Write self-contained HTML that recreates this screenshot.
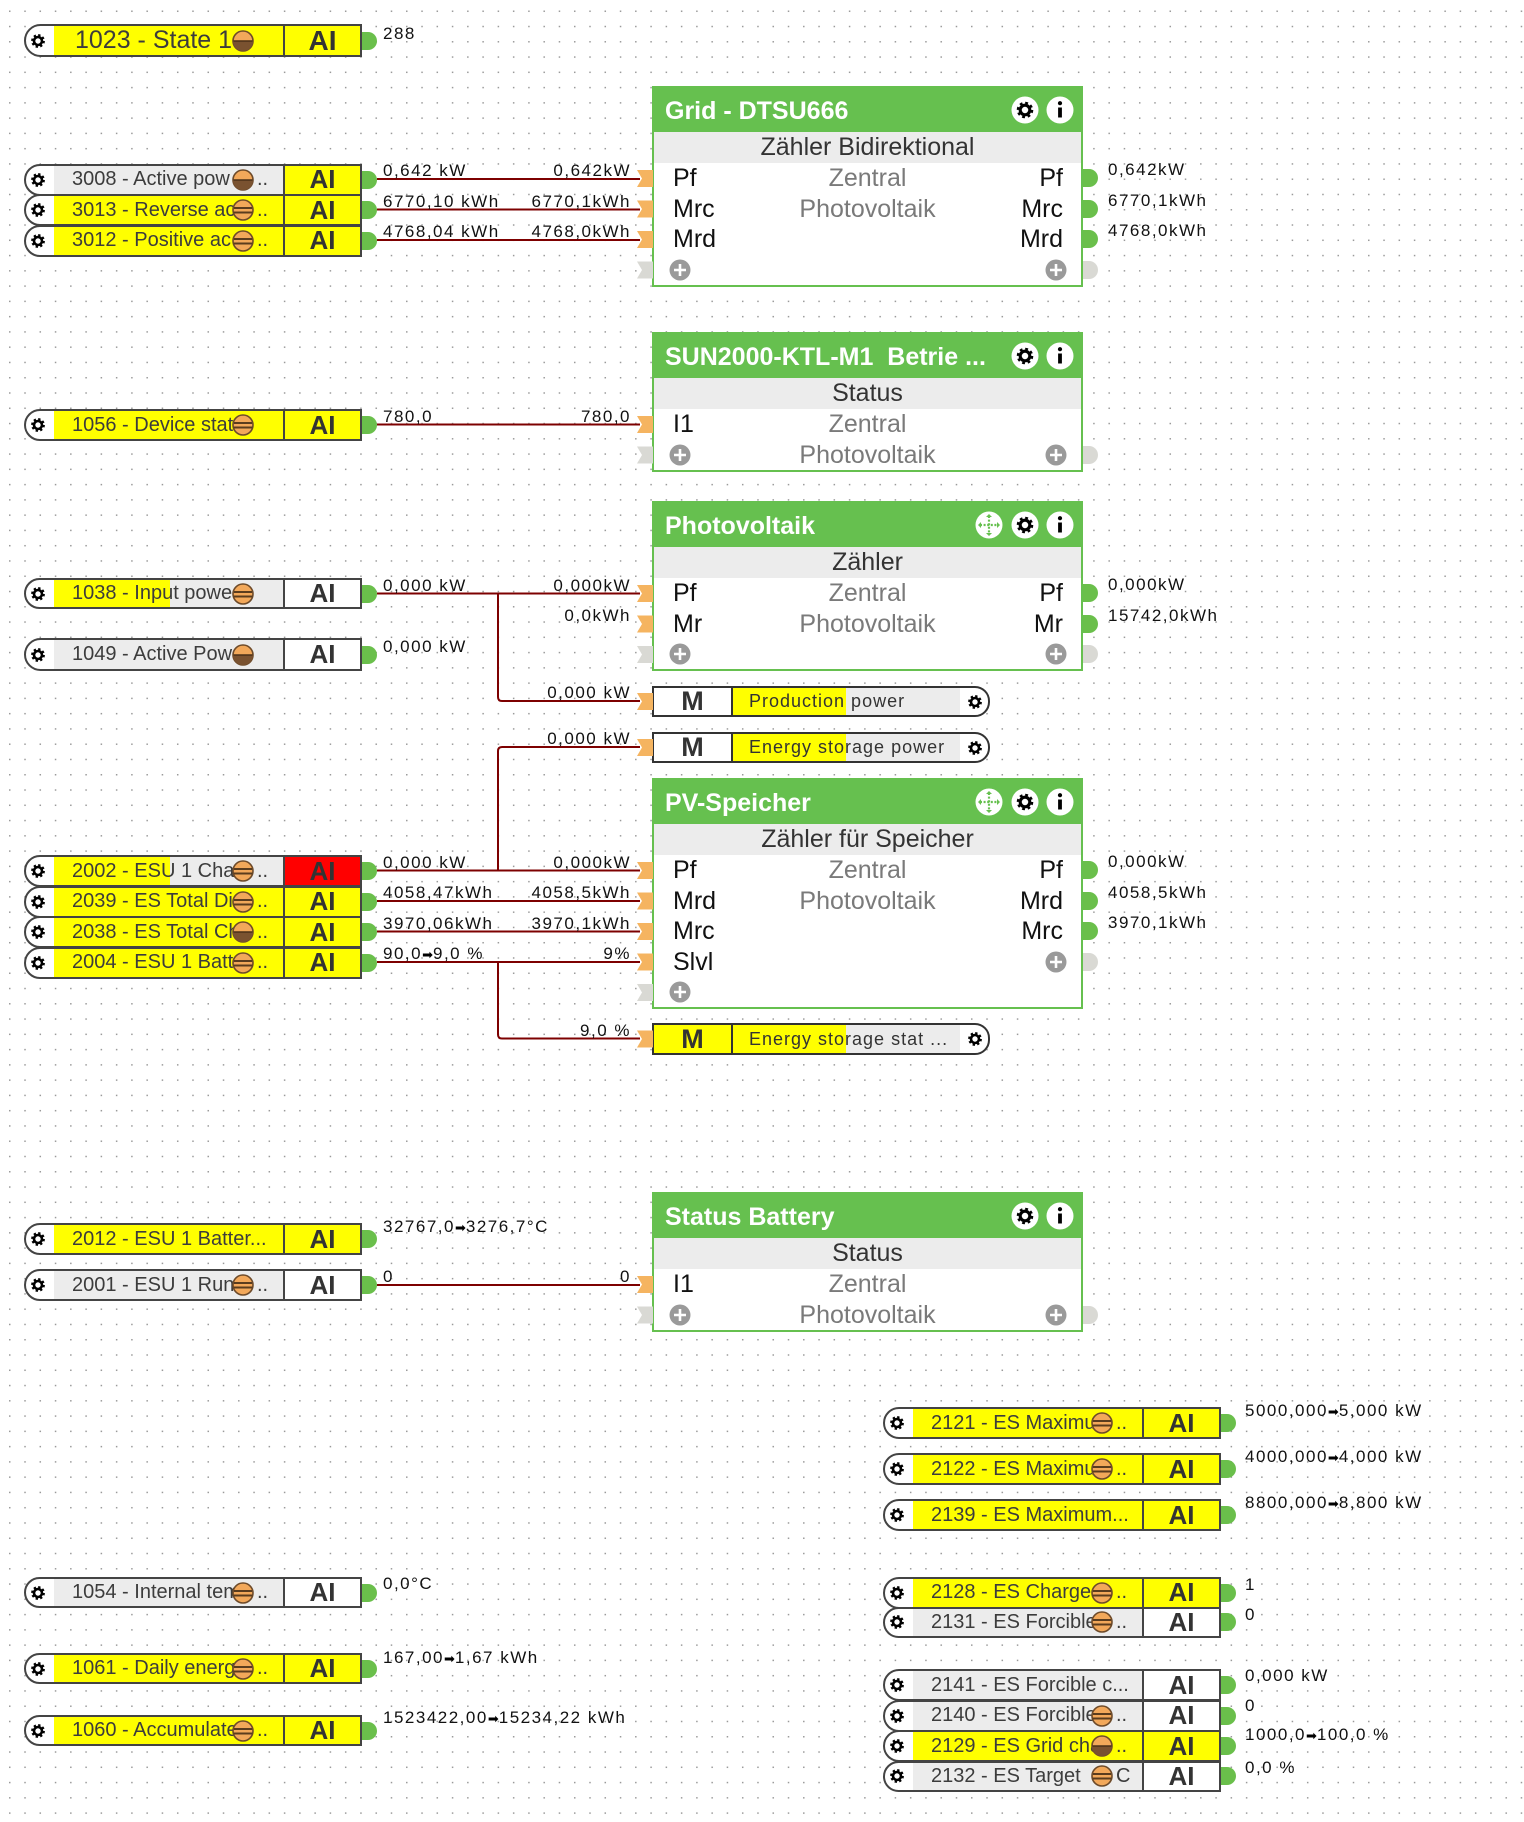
<!DOCTYPE html>
<html><head><meta charset="utf-8">
<style>
body{margin:0;background:#fff}
#c{position:relative;width:1524px;height:1822px;overflow:hidden;background:#fff;font-family:"Liberation Sans",Arial,sans-serif}
.a{position:absolute}
.n{position:absolute;width:338px;box-sizing:border-box;border:2px solid #444;border-radius:17px 0 0 17px;background:#fff}
.n>.gi{position:absolute;left:4px;top:50%;margin-top:-8px}
.l{position:absolute;left:28px;top:0;bottom:0;width:231px;box-sizing:border-box;border-right:2px solid #444;overflow:hidden;white-space:nowrap;font-size:20px;color:#3c3c3c}
.t{position:absolute;left:18px;top:0;bottom:0;width:182px;overflow:hidden;display:flex;align-items:center;white-space:nowrap}
.t.w{width:215px}
.dd{position:absolute;left:203px;top:0;bottom:0;display:flex;align-items:center}
.bl{position:absolute;left:206px;top:50%;margin-top:-11px}
.ai{position:absolute;left:259px;right:0;top:0;bottom:0;display:flex;align-items:center;justify-content:center;font-size:26px;font-weight:bold;color:#333}
.Y{background:#ffff00}.G{background:#ececec}.W{background:#fff}.R{background:#ff0000}
.P{background:linear-gradient(90deg,#ffff00 0,#ffff00 116px,#ececec 116px)}
.cg{position:absolute;width:15px;height:18px;background:#6abf4b;border-radius:0 9px 9px 0}
.cx{position:absolute;width:15px;height:18px;background:#d9d9d4;border-radius:0 9px 9px 0}
.v{position:absolute;font-size:17px;letter-spacing:1.5px;color:#111;white-space:nowrap;line-height:17px}
.vr{position:absolute;font-size:17px;letter-spacing:1.5px;color:#111;white-space:nowrap;line-height:17px;right:893px;text-align:right}
.ar{font-family:"DejaVu Sans",sans-serif;font-size:13px;letter-spacing:0;color:#000}
.b{position:absolute;left:652px;width:431px;box-sizing:border-box;border:2px solid #66c04f;background:#fff}
.h{position:absolute;left:0;right:0;top:0;height:44px;background:#66c04f;color:#fff;font-weight:bold;font-size:25px;line-height:46px;padding-left:11px;white-space:nowrap}
.s{position:absolute;left:0;right:0;top:44px;height:31px;background:#ececec;text-align:center;font-size:25px;line-height:31px;color:#333;white-space:nowrap}
.pl{position:absolute;left:19px;font-size:25px;color:#111;line-height:30.5px;height:30.5px}
.pr{position:absolute;right:18px;font-size:25px;color:#111;line-height:30.5px;height:30.5px}
.pc{position:absolute;left:0;right:0;text-align:center;font-size:25px;color:#7a7a7a;line-height:30.5px;height:30.5px}
.ic{position:absolute;top:8px}
.m{position:absolute;left:652px;width:338px;box-sizing:border-box;border:2px solid #333;border-radius:0 15px 15px 0;background:#fff}
.mm{position:absolute;left:0;top:0;bottom:0;width:79px;box-sizing:border-box;border-right:2px solid #333;display:flex;align-items:center;justify-content:center;font-weight:bold;font-size:27px;color:#333}
.ml{position:absolute;left:79px;top:0;bottom:0;width:227px;display:flex;align-items:center;padding-left:16px;box-sizing:border-box;font-size:18px;letter-spacing:1px;color:#333;white-space:nowrap;overflow:hidden;background:linear-gradient(90deg,#ffff00 0,#ffff00 113px,#ececec 113px)}
.mg{position:absolute;left:313px;top:50%;margin-top:-8px}
</style></head><body>
<div id="c">
<svg width="0" height="0" style="position:absolute">
<defs>
<g id="gg"><circle r="5.3" fill="none" stroke="#000" stroke-width="3.2" stroke-dasharray="2.1 2.06"/><circle r="4" fill="none" stroke="#000" stroke-width="2.6"/></g>
<symbol id="gr" viewBox="-8 -8 16 16"><use href="#gg"/></symbol>
<symbol id="gc" viewBox="-14 -14 28 28"><circle r="13.5" fill="#fff"/><use href="#gg" transform="scale(1.2)"/></symbol>
<symbol id="inf" viewBox="-14 -14 28 28"><circle r="13.5" fill="#fff"/><rect x="-1.9" y="-2.5" width="3.8" height="10" fill="#000"/><circle cy="-6.8" r="2.1" fill="#000"/></symbol>
<symbol id="mv" viewBox="-14 -14 28 28"><circle r="13.5" fill="#fff"/><path d="M0 -9V9M-9 0H9" stroke="#66c04f" stroke-width="2.2" stroke-dasharray="2 1.6"/><path d="M0 -11l-3 3h6zM0 11l-3 -3h6zM-11 0l3 -3v6zM11 0l-3 -3v6z" fill="#66c04f"/></symbol>
<symbol id="pls" viewBox="0 0 22 22"><circle cx="11" cy="11" r="10.5" fill="#9a9a9a"/><path d="M11 5v12M5 11h12" stroke="#fff" stroke-width="2.6"/></symbol>
<symbol id="bs" viewBox="0 0 22 22"><circle cx="11" cy="11" r="10" fill="#f2a85a" stroke="#6e4b2a" stroke-width="1.6"/><path d="M2 9h18M1.5 13.5h19" stroke="#5a3c1e" stroke-width="2"/></symbol>
<symbol id="bh" viewBox="0 0 22 22"><circle cx="11" cy="11" r="10" fill="#f2a85a" stroke="#6e4b2a" stroke-width="1.6"/><path d="M1 11a10 10 0 0 0 20 0z" fill="#7a5230"/><path d="M1.5 11h19" stroke="#4a3018" stroke-width="1.6"/></symbol>
<pattern id="dp" x="9" y="10.5" width="15.27" height="15.27" patternUnits="userSpaceOnUse"><rect width="1.5" height="1.5" fill="#9a9a9a"/></pattern>
</defs>
</svg>

<svg class="a" style="left:0;top:0" width="1524" height="1822">
<rect width="1524" height="1822" fill="url(#dp)"/>
<g stroke="#7d0000" stroke-width="2" fill="none">
<path d="M377 179H640"/>
<path d="M377 209.5H640"/>
<path d="M377 240H640"/>
<path d="M377 424.5H640"/>
<path d="M377 593.5H640"/>
<path d="M498 593.5V697q0 4 4 4H640"/>
<path d="M640 747H502q-4 0-4 4V870.5"/>
<path d="M377 870.5H640"/>
<path d="M377 901H640"/>
<path d="M377 931.5H640"/>
<path d="M377 962H640"/>
<path d="M498 962V1034.5q0 4 4 4H640"/>
<path d="M377 1285H640"/>
</g>
</svg>

<!-- LEFT NODES -->
<div class="n" style="left:24px;top:24px;height:33px"><svg class="gi" width="16" height="16"><use href="#gr"/></svg><div class="l Y"><div class="t" style="left:21px;font-size:25px;width:200px">1023 - State 1</div></div><svg class="bl" width="22" height="22"><use href="#bh"/></svg><div class="ai Y" style="font-size:28px">AI</div></div>
<div class="cg" style="left:362px;top:31.5px"></div>

<div class="n" style="left:24px;top:163.5px;height:32px"><svg class="gi" width="16" height="16"><use href="#gr"/></svg><div class="l G"><div class="t">3008 - Active pow</div><div class="dd">..</div></div><svg class="bl" width="22" height="22"><use href="#bh"/></svg><div class="ai Y">AI</div></div>
<div class="n" style="left:24px;top:194px;height:32px"><svg class="gi" width="16" height="16"><use href="#gr"/></svg><div class="l Y"><div class="t">3013 - Reverse ac</div><div class="dd">..</div></div><svg class="bl" width="22" height="22"><use href="#bs"/></svg><div class="ai Y">AI</div></div>
<div class="n" style="left:24px;top:224.5px;height:32px"><svg class="gi" width="16" height="16"><use href="#gr"/></svg><div class="l Y"><div class="t">3012 - Positive ac</div><div class="dd">..</div></div><svg class="bl" width="22" height="22"><use href="#bs"/></svg><div class="ai Y">AI</div></div>
<div class="cg" style="left:362px;top:170.5px"></div>
<div class="cg" style="left:362px;top:201px"></div>
<div class="cg" style="left:362px;top:231.5px"></div>

<div class="n" style="left:24px;top:409px;height:32px"><svg class="gi" width="16" height="16"><use href="#gr"/></svg><div class="l Y"><div class="t">1056 - Device stat</div></div><svg class="bl" width="22" height="22"><use href="#bs"/></svg><div class="ai Y">AI</div></div>
<div class="cg" style="left:362px;top:416px"></div>

<div class="n" style="left:24px;top:578px;height:31px"><svg class="gi" width="16" height="16"><use href="#gr"/></svg><div class="l P"><div class="t">1038 - Input powe</div></div><svg class="bl" width="22" height="22"><use href="#bs"/></svg><div class="ai W">AI</div></div>
<div class="cg" style="left:362px;top:584.5px"></div>

<div class="n" style="left:24px;top:638px;height:33px"><svg class="gi" width="16" height="16"><use href="#gr"/></svg><div class="l G"><div class="t">1049 - Active Pow</div></div><svg class="bl" width="22" height="22"><use href="#bh"/></svg><div class="ai W">AI</div></div>
<div class="cg" style="left:362px;top:645.5px"></div>

<div class="n" style="left:24px;top:855px;height:32px"><svg class="gi" width="16" height="16"><use href="#gr"/></svg><div class="l P"><div class="t">2002 - ESU 1 Cha</div><div class="dd">..</div></div><svg class="bl" width="22" height="22"><use href="#bs"/></svg><div class="ai R">AI</div></div>
<div class="n" style="left:24px;top:885.5px;height:32px"><svg class="gi" width="16" height="16"><use href="#gr"/></svg><div class="l Y"><div class="t">2039 - ES Total Dis</div><div class="dd">..</div></div><svg class="bl" width="22" height="22"><use href="#bs"/></svg><div class="ai Y">AI</div></div>
<div class="n" style="left:24px;top:916px;height:32px"><svg class="gi" width="16" height="16"><use href="#gr"/></svg><div class="l Y"><div class="t">2038 - ES Total Ch</div><div class="dd">..</div></div><svg class="bl" width="22" height="22"><use href="#bh"/></svg><div class="ai Y">AI</div></div>
<div class="n" style="left:24px;top:946.5px;height:32px"><svg class="gi" width="16" height="16"><use href="#gr"/></svg><div class="l Y"><div class="t">2004 - ESU 1 Batt</div><div class="dd">..</div></div><svg class="bl" width="22" height="22"><use href="#bs"/></svg><div class="ai Y">AI</div></div>
<div class="cg" style="left:362px;top:862px"></div>
<div class="cg" style="left:362px;top:892.5px"></div>
<div class="cg" style="left:362px;top:923px"></div>
<div class="cg" style="left:362px;top:953.5px"></div>

<div class="n" style="left:24px;top:1223px;height:32px"><svg class="gi" width="16" height="16"><use href="#gr"/></svg><div class="l Y"><div class="t w">2012 - ESU 1 Batter...</div></div><div class="ai Y">AI</div></div>
<div class="cg" style="left:362px;top:1230px"></div>
<div class="n" style="left:24px;top:1269px;height:32px"><svg class="gi" width="16" height="16"><use href="#gr"/></svg><div class="l G"><div class="t">2001 - ESU 1 Run</div><div class="dd">..</div></div><svg class="bl" width="22" height="22"><use href="#bs"/></svg><div class="ai W">AI</div></div>
<div class="cg" style="left:362px;top:1276px"></div>

<div class="n" style="left:24px;top:1577px;height:31px"><svg class="gi" width="16" height="16"><use href="#gr"/></svg><div class="l G"><div class="t">1054 - Internal tem</div><div class="dd">..</div></div><svg class="bl" width="22" height="22"><use href="#bs"/></svg><div class="ai W">AI</div></div>
<div class="cg" style="left:362px;top:1583.5px"></div>
<div class="n" style="left:24px;top:1653px;height:31px"><svg class="gi" width="16" height="16"><use href="#gr"/></svg><div class="l Y"><div class="t">1061 - Daily energ</div><div class="dd">..</div></div><svg class="bl" width="22" height="22"><use href="#bs"/></svg><div class="ai Y">AI</div></div>
<div class="cg" style="left:362px;top:1659.5px"></div>
<div class="n" style="left:24px;top:1715px;height:31px"><svg class="gi" width="16" height="16"><use href="#gr"/></svg><div class="l Y"><div class="t">1060 - Accumulate</div><div class="dd">..</div></div><svg class="bl" width="22" height="22"><use href="#bs"/></svg><div class="ai Y">AI</div></div>
<div class="cg" style="left:362px;top:1721.5px"></div>

<!-- RIGHT NODES -->
<div class="n" style="left:883px;top:1407px;height:32px"><svg class="gi" width="16" height="16"><use href="#gr"/></svg><div class="l Y"><div class="t">2121 - ES Maximu</div><div class="dd">..</div></div><svg class="bl" width="22" height="22"><use href="#bs"/></svg><div class="ai Y">AI</div></div>
<div class="cg" style="left:1221px;top:1414px"></div>
<div class="n" style="left:883px;top:1453px;height:32px"><svg class="gi" width="16" height="16"><use href="#gr"/></svg><div class="l Y"><div class="t">2122 - ES Maximu</div><div class="dd">..</div></div><svg class="bl" width="22" height="22"><use href="#bs"/></svg><div class="ai Y">AI</div></div>
<div class="cg" style="left:1221px;top:1460px"></div>
<div class="n" style="left:883px;top:1499px;height:32px"><svg class="gi" width="16" height="16"><use href="#gr"/></svg><div class="l Y"><div class="t w">2139 - ES Maximum...</div></div><div class="ai Y">AI</div></div>
<div class="cg" style="left:1221px;top:1506px"></div>

<div class="n" style="left:883px;top:1577px;height:31.5px"><svg class="gi" width="16" height="16"><use href="#gr"/></svg><div class="l Y"><div class="t">2128 - ES Charge</div><div class="dd">..</div></div><svg class="bl" width="22" height="22"><use href="#bs"/></svg><div class="ai Y">AI</div></div>
<div class="n" style="left:883px;top:1606.5px;height:31.5px"><svg class="gi" width="16" height="16"><use href="#gr"/></svg><div class="l G"><div class="t">2131 - ES Forcible</div><div class="dd">..</div></div><svg class="bl" width="22" height="22"><use href="#bs"/></svg><div class="ai W">AI</div></div>
<div class="cg" style="left:1221px;top:1583.75px"></div>
<div class="cg" style="left:1221px;top:1613.25px"></div>

<div class="n" style="left:883px;top:1669px;height:32px"><svg class="gi" width="16" height="16"><use href="#gr"/></svg><div class="l G"><div class="t w">2141 - ES Forcible c...</div></div><div class="ai W">AI</div></div>
<div class="n" style="left:883px;top:1699.5px;height:32px"><svg class="gi" width="16" height="16"><use href="#gr"/></svg><div class="l G"><div class="t">2140 - ES Forcible</div><div class="dd">..</div></div><svg class="bl" width="22" height="22"><use href="#bs"/></svg><div class="ai W">AI</div></div>
<div class="n" style="left:883px;top:1730px;height:32px"><svg class="gi" width="16" height="16"><use href="#gr"/></svg><div class="l Y"><div class="t">2129 - ES Grid cha</div><div class="dd">..</div></div><svg class="bl" width="22" height="22"><use href="#bh"/></svg><div class="ai Y">AI</div></div>
<div class="n" style="left:883px;top:1760.5px;height:31px"><svg class="gi" width="16" height="16"><use href="#gr"/></svg><div class="l G"><div class="t">2132 - ES Target</div><div class="dd">C</div></div><svg class="bl" width="22" height="22"><use href="#bs"/></svg><div class="ai W">AI</div></div>
<div class="cg" style="left:1221px;top:1676px"></div>
<div class="cg" style="left:1221px;top:1706.5px"></div>
<div class="cg" style="left:1221px;top:1737px"></div>
<div class="cg" style="left:1221px;top:1767px"></div>

<!-- BLOCKS -->
<div class="b" style="top:86px;height:201px">
<div class="h">Grid - DTSU666</div>
<svg class="ic" style="left:357px" width="28" height="28"><use href="#gc"/></svg>
<svg class="ic" style="left:392px" width="28" height="28"><use href="#inf"/></svg>
<div class="s">Zähler Bidirektional</div>
<div class="pl" style="top:75px">Pf</div><div class="pr" style="top:75px">Pf</div><div class="pc" style="top:75px">Zentral</div>
<div class="pl" style="top:105.5px">Mrc</div><div class="pr" style="top:105.5px">Mrc</div><div class="pc" style="top:105.5px">Photovoltaik</div>
<div class="pl" style="top:136px">Mrd</div><div class="pr" style="top:136px">Mrd</div>
<svg class="a" style="left:15px;top:170.5px" width="22" height="22"><use href="#pls"/></svg>
<svg class="a" style="left:391px;top:170.5px" width="22" height="22"><use href="#pls"/></svg>
</div>

<div class="b" style="top:332px;height:140px">
<div class="h">SUN2000-KTL-M1&nbsp; Betrie ...</div>
<svg class="ic" style="left:357px" width="28" height="28"><use href="#gc"/></svg>
<svg class="ic" style="left:392px" width="28" height="28"><use href="#inf"/></svg>
<div class="s">Status</div>
<div class="pl" style="top:75px">I1</div><div class="pc" style="top:75px">Zentral</div>
<div class="pc" style="top:105.5px">Photovoltaik</div>
<svg class="a" style="left:15px;top:109.5px" width="22" height="22"><use href="#pls"/></svg>
<svg class="a" style="left:391px;top:109.5px" width="22" height="22"><use href="#pls"/></svg>
</div>

<div class="b" style="top:501px;height:170px">
<div class="h">Photovoltaik</div>
<svg class="ic" style="left:321px" width="28" height="28"><use href="#mv"/></svg>
<svg class="ic" style="left:357px" width="28" height="28"><use href="#gc"/></svg>
<svg class="ic" style="left:392px" width="28" height="28"><use href="#inf"/></svg>
<div class="s">Zähler</div>
<div class="pl" style="top:75px">Pf</div><div class="pr" style="top:75px">Pf</div><div class="pc" style="top:75px">Zentral</div>
<div class="pl" style="top:105.5px">Mr</div><div class="pr" style="top:105.5px">Mr</div><div class="pc" style="top:105.5px">Photovoltaik</div>
<svg class="a" style="left:15px;top:140px" width="22" height="22"><use href="#pls"/></svg>
<svg class="a" style="left:391px;top:140px" width="22" height="22"><use href="#pls"/></svg>
</div>

<div class="b" style="top:778px;height:231px">
<div class="h">PV-Speicher</div>
<svg class="ic" style="left:321px" width="28" height="28"><use href="#mv"/></svg>
<svg class="ic" style="left:357px" width="28" height="28"><use href="#gc"/></svg>
<svg class="ic" style="left:392px" width="28" height="28"><use href="#inf"/></svg>
<div class="s">Zähler für Speicher</div>
<div class="pl" style="top:75px">Pf</div><div class="pr" style="top:75px">Pf</div><div class="pc" style="top:75px">Zentral</div>
<div class="pl" style="top:105.5px">Mrd</div><div class="pr" style="top:105.5px">Mrd</div><div class="pc" style="top:105.5px">Photovoltaik</div>
<div class="pl" style="top:136px">Mrc</div><div class="pr" style="top:136px">Mrc</div>
<div class="pl" style="top:166.5px">Slvl</div>
<svg class="a" style="left:391px;top:170.5px" width="22" height="22"><use href="#pls"/></svg>
<svg class="a" style="left:15px;top:201px" width="22" height="22"><use href="#pls"/></svg>
</div>

<div class="b" style="top:1192px;height:140px">
<div class="h">Status Battery</div>
<svg class="ic" style="left:357px" width="28" height="28"><use href="#gc"/></svg>
<svg class="ic" style="left:392px" width="28" height="28"><use href="#inf"/></svg>
<div class="s">Status</div>
<div class="pl" style="top:75px">I1</div><div class="pc" style="top:75px">Zentral</div>
<div class="pc" style="top:105.5px">Photovoltaik</div>
<svg class="a" style="left:15px;top:109.5px" width="22" height="22"><use href="#pls"/></svg>
<svg class="a" style="left:391px;top:109.5px" width="22" height="22"><use href="#pls"/></svg>
</div>

<!-- M BOXES -->
<div class="m" style="top:686px;height:31px"><div class="mm">M</div><div class="ml">Production power</div><svg class="mg" width="16" height="16"><use href="#gr"/></svg></div>
<div class="m" style="top:732px;height:31px"><div class="mm">M</div><div class="ml">Energy storage power</div><svg class="mg" width="16" height="16"><use href="#gr"/></svg></div>
<div class="m" style="top:1023px;height:32px"><div class="mm Y">M</div><div class="ml">Energy storage stat ...</div><svg class="mg" width="16" height="16"><use href="#gr"/></svg></div>

<!-- INPUT PORTS (orange / gray) -->
<svg class="a" style="left:637px;top:0" width="16" height="1822">
<g fill="#f5b460">
<polygon points="0,170 16,170 16,187 0,187 5,178.5"/>
<polygon points="0,200.5 16,200.5 16,217.5 0,217.5 5,209"/>
<polygon points="0,231 16,231 16,248 0,248 5,239.5"/>
<polygon points="0,416 16,416 16,433 0,433 5,424.5"/>
<polygon points="0,585 16,585 16,602 0,602 5,593.5"/>
<polygon points="0,615.5 16,615.5 16,632.5 0,632.5 5,624"/>
<polygon points="0,693 16,693 16,710 0,710 5,701.5"/>
<polygon points="0,739 16,739 16,756 0,756 5,747.5"/>
<polygon points="0,862 16,862 16,879 0,879 5,870.5"/>
<polygon points="0,892.5 16,892.5 16,909.5 0,909.5 5,901"/>
<polygon points="0,923 16,923 16,940 0,940 5,931.5"/>
<polygon points="0,953.5 16,953.5 16,970.5 0,970.5 5,962"/>
<polygon points="0,1030.5 16,1030.5 16,1047.5 0,1047.5 5,1039"/>
<polygon points="0,1276 16,1276 16,1293 0,1293 5,1284.5"/>
</g>
<g fill="#d9d9d4">
<polygon points="0,261.5 16,261.5 16,278.5 0,278.5 5,270"/>
<polygon points="0,446.5 16,446.5 16,463.5 0,463.5 5,455"/>
<polygon points="0,646 16,646 16,663 0,663 5,654.5"/>
<polygon points="0,984 16,984 16,1001 0,1001 5,992.5"/>
<polygon points="0,1306.5 16,1306.5 16,1323.5 0,1323.5 5,1315"/>
</g>
</svg>

<!-- OUTPUT PORTS ON BLOCKS -->
<div class="cg" style="left:1083px;top:169.25px"></div>
<div class="cg" style="left:1083px;top:199.75px"></div>
<div class="cg" style="left:1083px;top:230.25px"></div>
<div class="cx" style="left:1083px;top:260.75px"></div>
<div class="cx" style="left:1083px;top:445.75px"></div>
<div class="cg" style="left:1083px;top:584.25px"></div>
<div class="cg" style="left:1083px;top:614.75px"></div>
<div class="cx" style="left:1083px;top:645.25px"></div>
<div class="cg" style="left:1083px;top:861.25px"></div>
<div class="cg" style="left:1083px;top:891.75px"></div>
<div class="cg" style="left:1083px;top:922.25px"></div>
<div class="cx" style="left:1083px;top:952.75px"></div>
<div class="cx" style="left:1083px;top:1305.75px"></div>

<!-- VALUE LABELS -->
<div class="v" style="left:383px;top:25px">288</div>
<div class="v" style="left:383px;top:162px">0,642 kW</div><div class="vr" style="top:162px">0,642kW</div>
<div class="v" style="left:383px;top:192.5px">6770,10 kWh</div><div class="vr" style="top:192.5px">6770,1kWh</div>
<div class="v" style="left:383px;top:223px">4768,04 kWh</div><div class="vr" style="top:223px">4768,0kWh</div>
<div class="v" style="left:383px;top:407.5px">780,0</div><div class="vr" style="top:407.5px">780,0</div>
<div class="v" style="left:383px;top:576.5px">0,000 kW</div><div class="vr" style="top:576.5px">0,000kW</div>
<div class="vr" style="top:607px">0,0kWh</div>
<div class="v" style="left:383px;top:637.5px">0,000 kW</div>
<div class="vr" style="top:684px">0,000 kW</div>
<div class="vr" style="top:730px">0,000 kW</div>
<div class="v" style="left:383px;top:853.5px">0,000 kW</div><div class="vr" style="top:853.5px">0,000kW</div>
<div class="v" style="left:383px;top:884px">4058,47kWh</div><div class="vr" style="top:884px">4058,5kWh</div>
<div class="v" style="left:383px;top:914.5px">3970,06kWh</div><div class="vr" style="top:914.5px">3970,1kWh</div>
<div class="v" style="left:383px;top:945px">90,0<span class="ar">➡</span>9,0 %</div><div class="vr" style="top:945px">9%</div>
<div class="vr" style="top:1021.5px">9,0 %</div>
<div class="v" style="left:383px;top:1218px">32767,0<span class="ar">➡</span>3276,7°C</div>
<div class="v" style="left:383px;top:1268px">0</div><div class="vr" style="top:1268px">0</div>
<div class="v" style="left:383px;top:1575px">0,0°C</div>
<div class="v" style="left:383px;top:1649px">167,00<span class="ar">➡</span>1,67 kWh</div>
<div class="v" style="left:383px;top:1709px">1523422,00<span class="ar">➡</span>15234,22 kWh</div>

<div class="v" style="left:1108px;top:161px">0,642kW</div>
<div class="v" style="left:1108px;top:192px">6770,1kWh</div>
<div class="v" style="left:1108px;top:222px">4768,0kWh</div>
<div class="v" style="left:1108px;top:576px">0,000kW</div>
<div class="v" style="left:1108px;top:607px">15742,0kWh</div>
<div class="v" style="left:1108px;top:853px">0,000kW</div>
<div class="v" style="left:1108px;top:884px">4058,5kWh</div>
<div class="v" style="left:1108px;top:914px">3970,1kWh</div>

<div class="v" style="left:1245px;top:1402px">5000,000<span class="ar">➡</span>5,000 kW</div>
<div class="v" style="left:1245px;top:1448px">4000,000<span class="ar">➡</span>4,000 kW</div>
<div class="v" style="left:1245px;top:1494px">8800,000<span class="ar">➡</span>8,800 kW</div>
<div class="v" style="left:1245px;top:1576px">1</div>
<div class="v" style="left:1245px;top:1606px">0</div>
<div class="v" style="left:1245px;top:1667px">0,000 kW</div>
<div class="v" style="left:1245px;top:1697px">0</div>
<div class="v" style="left:1245px;top:1726px">1000,0<span class="ar">➡</span>100,0 %</div>
<div class="v" style="left:1245px;top:1759px">0,0 %</div>
</div>
</body></html>
